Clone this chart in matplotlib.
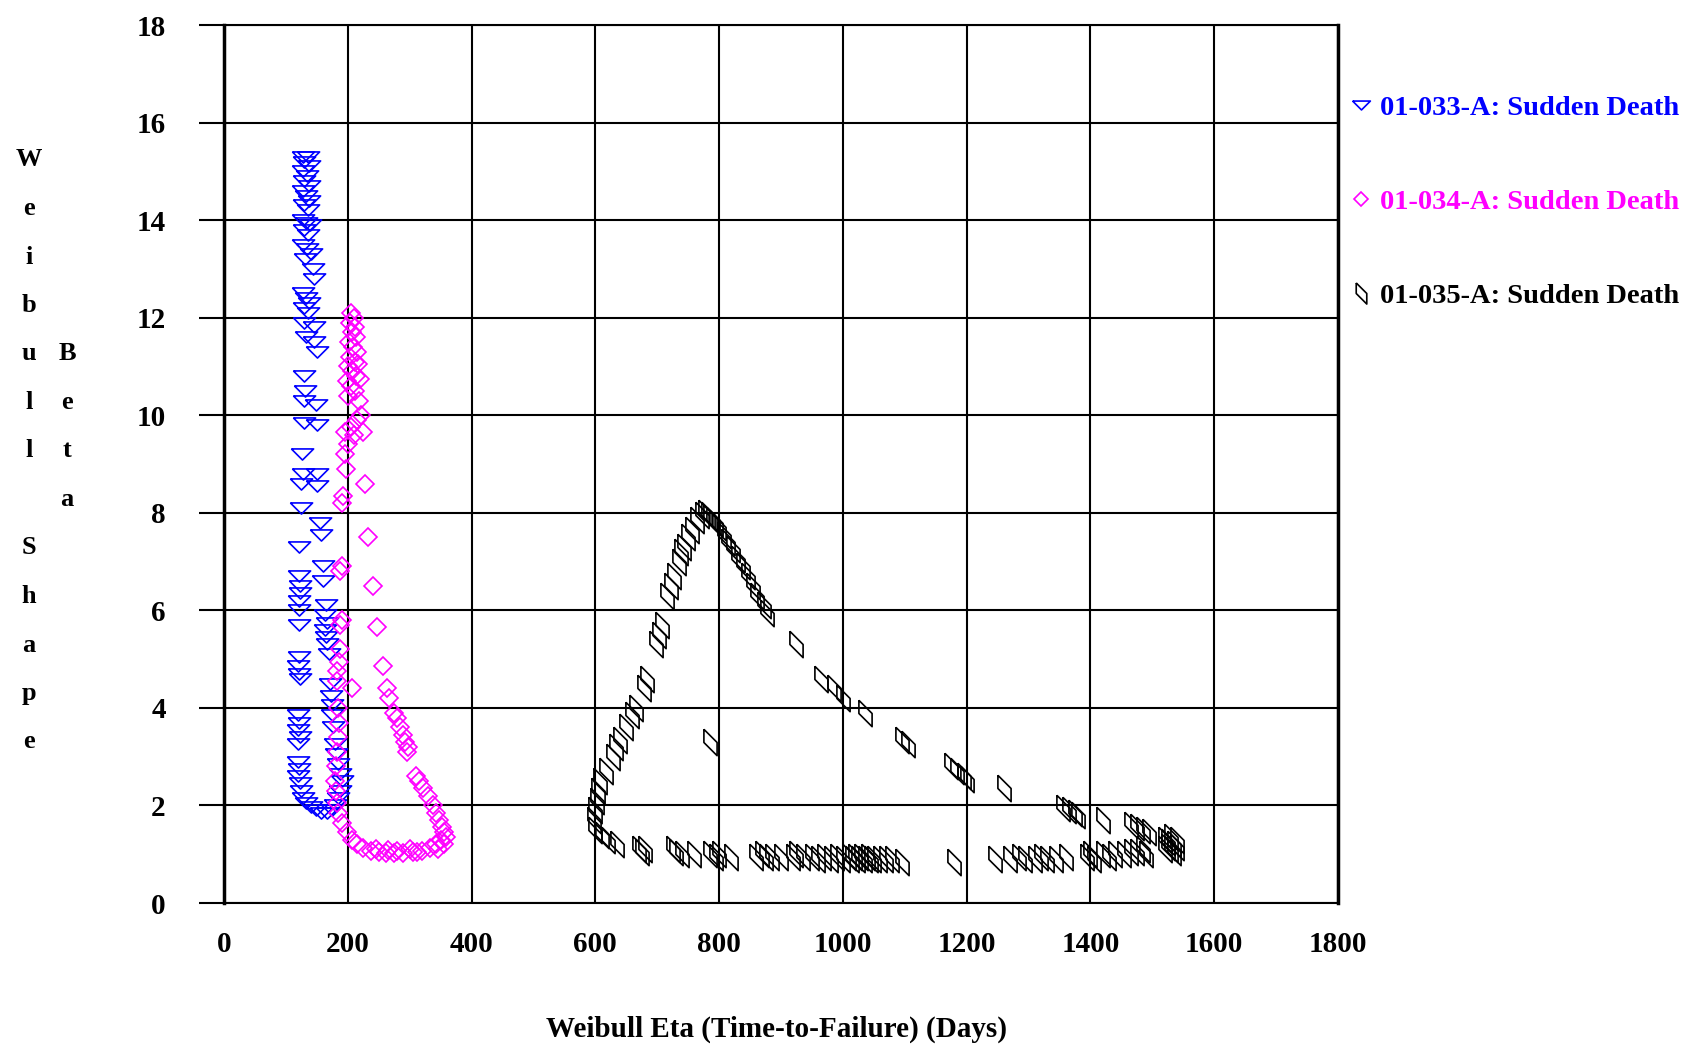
import matplotlib
matplotlib.use('Agg')
import matplotlib.pyplot as plt

plt.rcParams['font.family'] = ['Liberation Serif', 'DejaVu Serif']

# 01-033-A (blue triangles)
blue_x = [128, 135, 130, 137, 128, 134, 130, 137, 128, 133, 138, 130, 135,
          127, 133, 139, 130, 136, 128, 134, 140, 131, 143, 146, 128, 133, 138, 130, 135,
          129, 145, 132, 146, 151, 130, 131, 130, 149, 130, 150, 126, 128, 150, 125, 150,
          125, 155, 156, 121, 160, 160, 121, 122, 123, 121, 121, 121, 165, 164, 166, 163,
          165, 167, 170, 121, 120, 121, 122, 171, 173, 174, 174, 176, 120, 121, 119, 122,
          120, 120, 121, 120, 122, 124, 128, 133, 140, 148, 156, 180, 181, 184, 188, 190,
          188, 184, 180, 174, 166]
blue_y = [15.3, 15.3, 15.2, 15.1, 15.0, 14.9, 14.8, 14.7, 14.6, 14.5, 14.4, 14.3, 14.2,
          14.0, 13.95, 13.9, 13.8, 13.7, 13.5, 13.4, 13.3, 13.2, 13.0, 12.8, 12.5, 12.4, 12.3, 12.2, 12.1,
          11.9, 11.8, 11.6, 11.5, 11.3, 10.8, 10.5, 10.3, 10.2, 9.85, 9.8, 9.2, 8.8, 8.8, 8.6, 8.55,
          8.1, 7.8, 7.55, 7.3, 6.9, 6.6, 6.7, 6.5, 6.35, 6.2, 6.0, 5.7, 6.1, 5.9, 5.75, 5.6,
          5.45, 5.3, 5.1, 5.05, 4.85, 4.7, 4.6, 4.5, 4.25, 4.05, 3.85, 3.6, 3.85, 3.7, 3.55, 3.4,
          3.25, 2.9, 2.75, 2.6, 2.45, 2.3, 2.15, 2.05, 1.97, 1.9, 1.85, 3.25, 3.05, 2.85, 2.65, 2.5,
          2.3, 2.15, 2.0, 1.9, 1.85]

# 01-034-A (magenta diamonds)
pink_x = [205, 210, 203, 212, 207, 214, 202, 209, 215, 204, 211, 217, 200, 207, 213, 220,
          198, 205, 212, 200, 218, 222, 215, 205, 195, 210, 225, 200, 195, 197, 228, 192,
          190, 233, 190, 188, 240, 190, 187, 247, 188, 186, 257, 183, 182, 207, 263, 267,
          274, 280, 285, 290, 293, 298, 296, 310, 315, 322, 330, 337, 343, 347, 352, 355,
          350, 343, 333, 320, 305, 290, 275, 262, 250, 237, 225, 215, 207, 198, 190, 185,
          182, 181, 180, 181, 183, 185, 186, 185, 345, 355, 358, 300, 265, 245, 312, 280]
pink_y = [12.1, 12.0, 11.9, 11.8, 11.7, 11.6, 11.5, 11.4, 11.3, 11.2, 11.1, 11.05, 11.0, 10.9, 10.8, 10.75,
          10.7, 10.6, 10.5, 10.4, 10.3, 10.0, 9.9, 9.75, 9.65, 9.6, 9.65, 9.4, 9.2, 8.9, 8.6, 8.35,
          8.2, 7.5, 6.9, 6.8, 6.5, 5.8, 5.7, 5.65, 5.2, 4.95, 4.85, 4.75, 4.55, 4.4, 4.4, 4.2,
          3.9, 3.8, 3.6, 3.45, 3.3, 3.2, 3.1, 2.6, 2.5, 2.35, 2.2, 2.0, 1.85, 1.7, 1.55, 1.45,
          1.3, 1.2, 1.12, 1.07, 1.05, 1.03, 1.02, 1.02, 1.04, 1.07, 1.12, 1.2, 1.3, 1.45, 1.65, 1.85,
          2.05, 2.3, 2.5, 2.8, 3.1, 3.4, 3.7, 4.0, 1.1, 1.2, 1.35, 1.1, 1.08, 1.1, 1.04, 1.06]

# 01-035-A (black parallelograms)
black_x = [600, 598, 600, 602, 605, 608, 618, 628, 634, 640, 650, 660, 665, 678, 684, 698,
           703, 708, 716, 722, 727, 735, 738, 743, 750, 756, 765, 772, 778, 782, 786, 790,
           795, 800, 808, 815, 822, 830, 838, 846, 855, 862, 872, 878,
           925, 965, 985, 1000, 1035, 1095, 1105, 1175, 1185, 1195, 1200, 1260, 1355, 1365,
           1375, 1380, 1420, 1465, 1475, 1485, 1495, 1520, 1525, 1530, 1535, 1540,
           785,
           610, 620, 635, 670, 675, 680, 725, 730, 740, 760, 785, 795, 800, 820, 860, 870,
           875, 885, 900, 920, 925, 935, 950, 960, 970, 980, 990, 1000, 1010, 1015, 1020,
           1025, 1030, 1035, 1040, 1045, 1050, 1060, 1070, 1080, 1095, 1180, 1245, 1270,
           1285, 1295, 1310, 1320, 1330, 1345, 1360, 1395, 1400, 1405, 1420, 1430, 1440,
           1455, 1465, 1475, 1485, 1490, 1520, 1525, 1530, 1535, 1540]
black_y = [1.5, 1.7, 1.9, 2.1, 2.3, 2.5, 2.7, 3.0, 3.2, 3.35, 3.6, 3.85, 4.0, 4.4, 4.6, 5.3,
           5.5, 5.7, 6.3, 6.5, 6.7, 7.0, 7.2, 7.3, 7.5, 7.65, 7.85, 7.95, 8.0, 7.95, 7.9, 7.85,
           7.8, 7.7, 7.55, 7.4, 7.25, 7.05, 6.9, 6.7, 6.5, 6.3, 6.1, 5.95,
           5.3, 4.6, 4.4, 4.2, 3.9, 3.35, 3.25, 2.8, 2.7, 2.6, 2.55, 2.35, 1.95, 1.9,
           1.85, 1.8, 1.7, 1.6, 1.55, 1.5, 1.45, 1.3, 1.25, 1.35, 1.2, 1.3,
           3.3,
           1.4, 1.3, 1.2, 1.1, 1.05, 1.1, 1.1, 1.05, 1.0, 1.0, 1.0, 0.95, 1.0, 0.95, 0.95, 1.0,
           0.95, 0.95, 0.95, 0.95, 1.0, 0.95, 0.95, 0.9, 0.95, 0.9, 0.95, 0.9, 0.95, 0.9, 0.95,
           0.9, 0.95, 0.9, 0.95, 0.9, 0.9, 0.9, 0.9, 0.9, 0.85, 0.85, 0.9, 0.9,
           0.95, 0.9, 0.9, 0.95, 0.9, 0.9, 0.95, 0.95, 1.0, 0.9, 1.0, 0.95, 1.0,
           1.0, 1.05, 1.05, 1.1, 1.0, 1.1, 1.15, 1.1, 1.05, 1.15]

labels = ['01-033-A: Sudden Death', '01-034-A: Sudden Death', '01-035-A: Sudden Death']
colors = ['#0000FF', '#FF00FF', '#000000']

# flat downward triangle and slanted parallelogram markers
tri = [(-1.0, 0.5), (1.0, 0.5), (0.0, -0.5), (-1.0, 0.5)]
para = [(-0.5, 1.0), (-0.5, 0.0), (0.5, -1.0), (0.5, 0.0), (-0.5, 1.0)]

fig = plt.figure(figsize=(16.96, 10.46), dpi=100)
ax = fig.add_axes([224/1696, 143/1046, 1114/1696, 878/1046])

ax.plot(blue_x, blue_y, linestyle='none', marker=tri, ms=16, mfc='none',
        mec=colors[0], mew=1.2, label=labels[0])
ax.plot(pink_x, pink_y, linestyle='none', marker='D', ms=9.5, mfc='none',
        mec=colors[1], mew=1.2, label=labels[1])
ax.plot(black_x, black_y, linestyle='none', marker=para, ms=19, mfc='none',
        mec=colors[2], mew=1.2, label=labels[2])

ax.set_xlim(0, 1800)
ax.set_ylim(0, 18)
ax.set_xticks(range(0, 1801, 200))
ax.set_yticks(range(0, 19, 2))
ax.grid(True, color='black', linewidth=1.5)
ax.set_axisbelow(True)
for side in ['left', 'right']:
    ax.spines[side].set_linewidth(2.5)
ax.spines['top'].set_linewidth(1.5)
ax.spines['bottom'].set_linewidth(1.5)

ax.tick_params(axis='y', direction='out', length=18, width=1.5, pad=24, labelsize=21)
ax.tick_params(axis='x', direction='out', length=0, width=1.5, pad=20, labelsize=21)
for t in ax.get_xticklabels() + ax.get_yticklabels():
    t.set_fontweight('bold')

fig.text(776/1696, 1 - 1029/1046, 'Weibull Eta (Time-to-Failure) (Days)',
         ha='center', va='center', fontsize=21, fontweight='bold')

# stacked y label, two columns of letters
col1 = 'Weibull Shape'
col2 = 'Beta'
step = 48.5
for i, ch in enumerate(col1):
    if ch == ' ':
        continue
    fig.text(29/1696, 1 - (160 + i*step)/1046, ch, ha='center', va='center',
             fontsize=19, fontweight='bold')
for i, ch in enumerate(col2):
    fig.text(67/1696, 1 - (160 + (i + 4)*step)/1046, ch, ha='center', va='center',
             fontsize=19, fontweight='bold')

leg = fig.legend(loc='upper left', bbox_to_anchor=(1350/1696, 1 - 95/1046),
                 frameon=False, labelspacing=2.4, handlelength=0.8,
                 handletextpad=0.25, borderpad=0, borderaxespad=0, markerscale=0.8,
                 prop={'weight': 'bold', 'size': 20.5})
for txt, c in zip(leg.get_texts(), colors):
    txt.set_color(c)

fig.savefig('out.png', dpi=100)
